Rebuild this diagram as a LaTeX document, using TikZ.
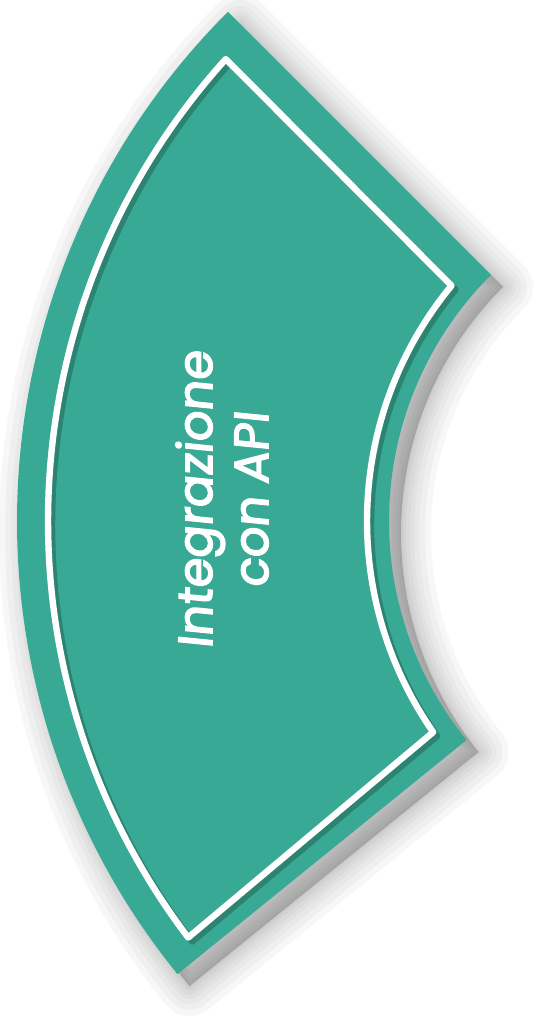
\documentclass[tikz,border=0pt]{standalone}
\usepackage{fontspec}
\setmainfont{Poppins}
\newfontfamily\bandfont{Poppins}[FakeBold=3,FakeSlant=0.1]
\definecolor{bandteal}{RGB}{56,169,148}
\definecolor{rimteal}{RGB}{44,131,113}
\begin{document}
\begin{tikzpicture}[x=0.5pt,y=0.5pt,
    band/.style={fill=bandteal},
    rim/.style={draw=white,line width=3.2pt,line join=round},
    rimshade/.style={draw=rimteal,line width=3.2pt,line join=round},
    bandtext/.style={text=white,font=\bandfont\fontsize{24}{28}\selectfont,align=center,rotate=90}]
  \useasboundingbox (0,0) rectangle (542,1024);
  \begin{scope}[shift={(737,503)}]
    % soft shadow
    \foreach \w in {30,24,18,13,9,5,2}
      \path[fill=black,draw=black,opacity=0.03,line width=\w pt,line join=round,shift={(12,-12)}]
        (135:720) -- (135:348) arc[start angle=135,end angle=219,radius=348]
        -- (219:720) arc[start angle=219,end angle=135,radius=720] -- cycle;
    % band
    \path[band] (135:720) -- (135:348) arc[start angle=135,end angle=219,radius=348]
      -- (219:720) arc[start angle=219,end angle=135,radius=720] -- cycle;
    % rim
    \draw[rimshade,shift={(4,-4)}] (137.9:689) -- (140.5:370) arc[start angle=140.5,end angle=214.8,radius=370]
      -- (217.2:689) arc[start angle=217.2,end angle=137.9,radius=689] -- cycle;
    \draw[rim] (137.9:689) -- (140.5:370) arc[start angle=140.5,end angle=214.8,radius=370]
      -- (217.2:689) arc[start angle=217.2,end angle=137.9,radius=689] -- cycle;
  \end{scope}
  \node[bandtext] (title) at (222,524) {Integrazione\\con API};
\end{tikzpicture}
\end{document}
